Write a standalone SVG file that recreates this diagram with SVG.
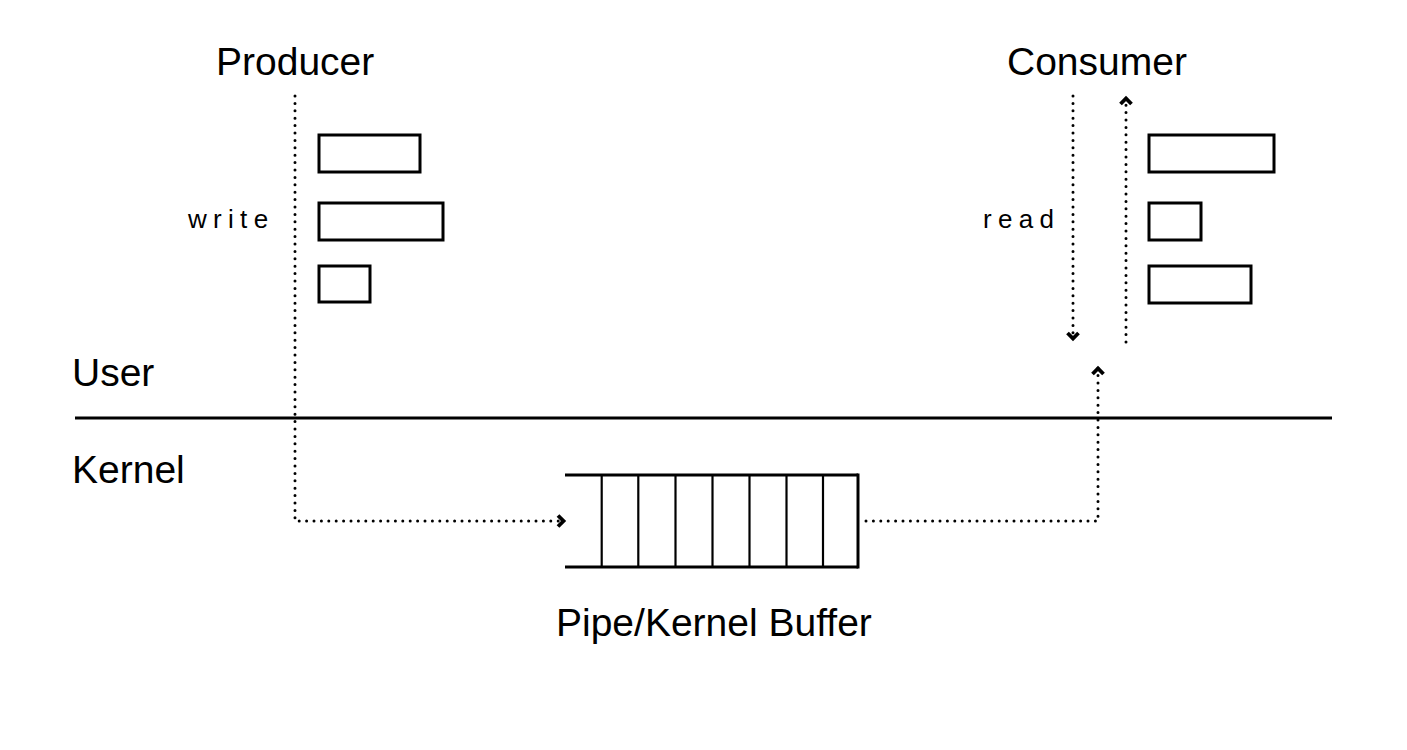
<svg xmlns="http://www.w3.org/2000/svg" width="1407" height="750" viewBox="0 0 1407 750">
<style>
.lbl{font-family:"Liberation Sans",Arial,sans-serif;font-size:39px;fill:#000}
.sm{font-family:"Liberation Sans",Arial,sans-serif;font-size:26px;letter-spacing:6.3px;fill:#000}
.box{fill:#fff;stroke:#000;stroke-width:3}
.dot{fill:none;stroke:#000;stroke-width:3;stroke-linecap:round;stroke-dasharray:0 7.4}
.solid{stroke:#000;stroke-width:3;fill:none}
.cell{stroke:#000;stroke-width:2.2;fill:none}
</style>
<defs>
<marker id="chev" markerUnits="userSpaceOnUse" markerWidth="20" markerHeight="20" viewBox="-10 -10 20 20" refX="0" refY="0" orient="auto">
<path d="M-6,-5.5 L-0.5,0 L-6,5.5" fill="none" stroke="#000" stroke-width="3.8"/>
</marker>
</defs>
<rect width="1407" height="750" fill="#fff"/>
<g id="labels">
<text class="lbl" x="216" y="75">Producer</text>
<text class="lbl" x="1007" y="75">Consumer</text>
<text class="lbl" x="72" y="386">User</text>
<text class="lbl" x="72" y="483">Kernel</text>
<text class="lbl" x="556" y="636">Pipe/Kernel Buffer</text>
<text class="sm" x="188" y="228">write</text>
<text class="sm" x="983" y="228">read</text>
</g>
<g id="divider">
<line class="solid" x1="75" y1="418" x2="1332" y2="418"/>
</g>
<g id="producer-data">
<rect class="box" x="319" y="135" width="101" height="37"/>
<rect class="box" x="319" y="203" width="124" height="37"/>
<rect class="box" x="319" y="266" width="51" height="36"/>
</g>
<g id="consumer-data">
<rect class="box" x="1149" y="135" width="125" height="37"/>
<rect class="box" x="1149" y="203" width="52" height="37"/>
<rect class="box" x="1149" y="266" width="102" height="37"/>
</g>
<g id="buffer">
<line class="solid" x1="565" y1="475" x2="858" y2="475"/>
<line class="solid" x1="565" y1="567" x2="858" y2="567"/>
<line class="solid" x1="858" y1="473.5" x2="858" y2="568.5"/>
<line class="cell" x1="601.7" y1="475" x2="601.7" y2="567"/>
<line class="cell" x1="638.3" y1="475" x2="638.3" y2="567"/>
<line class="cell" x1="675.5" y1="475" x2="675.5" y2="567"/>
<line class="cell" x1="712.5" y1="475" x2="712.5" y2="567"/>
<line class="cell" x1="749.5" y1="475" x2="749.5" y2="567"/>
<line class="cell" x1="786.5" y1="475" x2="786.5" y2="567"/>
<line class="cell" x1="823" y1="475" x2="823" y2="567"/>
</g>
<g id="connectors">
<path class="dot" d="M295,96 V521 H564" marker-end="url(#chev)"/>
<path class="dot" d="M1073,96 V339" marker-end="url(#chev)"/>
<path class="dot" d="M1126,342 V98" marker-end="url(#chev)"/>
<path class="dot" d="M866,521 H1098 V368" marker-end="url(#chev)"/>
</g>
</svg>
